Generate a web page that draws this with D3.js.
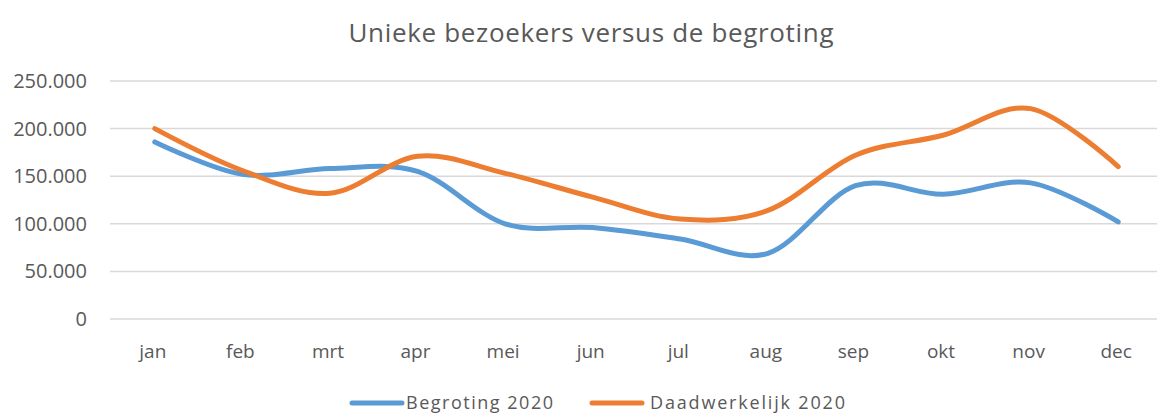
<!DOCTYPE html>
<html>
<head>
<meta charset="utf-8">
<script src="https://cdn.jsdelivr.net/npm/d3@7"></script>
<style>
	body { margin: 0; background: #fff; overflow: hidden; }
	text { font-family: "Open Sans", sans-serif; fill: #595959; }
</style>
</head>
<body>
<div id="chart"></div>
<script>
// data
const months = ['jan','feb','mrt','apr','mei','jun','jul','aug','sep','okt','nov','dec']
const begroting = [186000, 152000, 158000, 155000, 100000, 96000, 84000, 69000, 140000, 131000, 143000, 102000]
const daadwerkelijk = [200000, 156000, 132000, 171000, 153000, 128000, 105000, 114000, 172000, 193000, 221000, 160000]
const yTicks = [0, 50000, 100000, 150000, 200000, 250000]
const seriesNames = ['Begroting 2020', 'Daadwerkelijk 2020']
const colors = ['#5B9BD5', '#ED7D31']

const w = 1157, h = 414

let svg = d3.select('#chart').append('svg').attr('width', w).attr('height', h)

let x = d3.scaleBand().domain(months).range([111, 1162])
let y = d3.scaleLinear().domain([0, 250000]).range([319, 81])

//title
svg.append('text')
	.attr('x', 591).attr('y', 42)
	.attr('text-anchor', 'middle')
	.attr('textLength', 485)
	.style('font-size', '26px')
	.text('Unieke bezoekers versus de begroting')

//gridlines + y labels
let fmt = v => v == 0 ? '0' : d3.format(',')(v).replace(/,/g, '.')
let yAxis = svg.append('g')
yAxis.selectAll('line').data(yTicks).join('line')
	.attr('x1', 110).attr('x2', w)
	.attr('y1', d => y(d)).attr('y2', d => y(d))
	.attr('stroke', '#d9d9d9').attr('stroke-width', 1.5)
yAxis.selectAll('text').data(yTicks).join('text')
	.attr('x', 87).attr('y', d => y(d) + 7)
	.attr('text-anchor', 'end')
	.style('font-size', '20px')
	.text(fmt)

//x labels
svg.append('g').selectAll('text').data(months).join('text')
	.attr('x', d => x(d) + x.bandwidth() / 2 - 2)
	.attr('y', 358)
	.attr('text-anchor', 'middle')
	.style('font-size', '19px')
	.text(d => d)

//lines, excel style smoothing
let line = d3.line()
	.x((d, i) => x(months[i]) + x.bandwidth() / 2)
	.y(d => y(d))
	.curve(d3.curveCatmullRom.alpha(0))

;[begroting, daadwerkelijk].forEach((s, i) => {
	svg.append('path')
		.datum(s)
		.attr('d', line)
		.attr('fill', 'none')
		.attr('stroke', colors[i])
		.attr('stroke-width', 5)
		.attr('stroke-linecap', 'round')
		.attr('stroke-linejoin', 'round')
})

//legend
let legendPos = [{lx: 352, tx: 406, tw: 147}, {lx: 592, tx: 650, tw: 195}]
let legend = svg.append('g').selectAll('g').data(seriesNames).join('g')
legend.append('line')
	.attr('x1', (d, i) => legendPos[i].lx).attr('x2', (d, i) => legendPos[i].lx + 50)
	.attr('y1', 403).attr('y2', 403)
	.attr('stroke', (d, i) => colors[i])
	.attr('stroke-width', 5)
	.attr('stroke-linecap', 'round')
legend.append('text')
	.attr('x', (d, i) => legendPos[i].tx).attr('y', 409)
	.attr('textLength', (d, i) => legendPos[i].tw)
	.style('font-size', '18px')
	.text(d => d)
</script>
</body>
</html>
